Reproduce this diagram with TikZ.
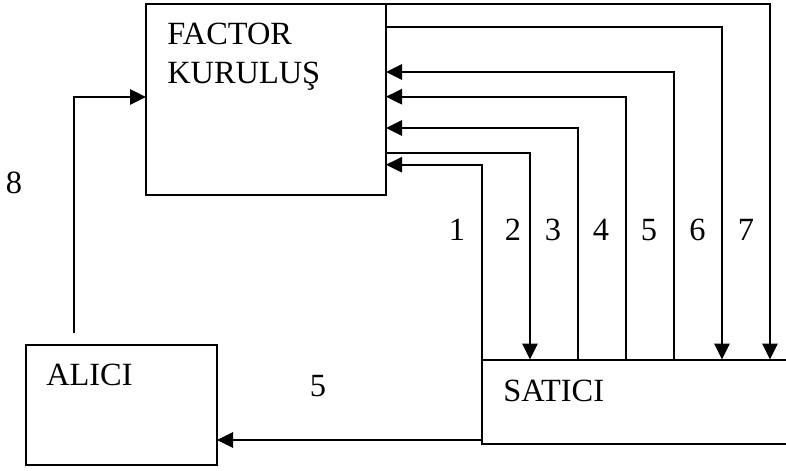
\documentclass[tikz,border=0pt]{standalone}
\usepackage{fontspec}
\setmainfont{Liberation Serif}
\usetikzlibrary{arrows.meta}
\tikzset{
  box/.style={draw, line width=1.5pt, inner sep=0pt, outer sep=0pt},
  conn/.style={draw, line width=1.4pt},
  arr/.style={conn, -{Triangle[length=12pt,width=11.5pt]}},
  lbl/.style={anchor=base, inner sep=0pt, font=\fontsize{24.3}{28}\selectfont},
  lblw/.style={anchor=base west, inner sep=0pt, font=\fontsize{24.3}{28}\selectfont}
}
\begin{document}
\begin{tikzpicture}[x=0.75pt, y=-0.75pt]
\clip (0,0) rectangle (786,471);
\fill[white] (0,0) rectangle (786,471);
% boxes
\node[box, minimum width=180pt, minimum height=143.25pt] (F) at (266,99.5) {};
\node[box, minimum width=143.25pt, minimum height=90pt] (A) at (121.5,405) {};
\node[box, minimum width=253.5pt, minimum height=63pt] (S) at (651,401.5) {};
% texts
\node[lblw] (t1) at (167,45) {FACTOR};
\node[lblw] (t2) at (167,83) {KURULUŞ};
\node[lblw] (t3) at (46,385) {ALICI};
\node[lblw] (t4) at (503,401) {SATICI};
% coordinates on FACTOR right side
\path (F.north east) ++(0,23.3) coordinate (f6);
\path (F.north east) ++(0,68) coordinate (f5);
\path (F.north east) ++(0,92.7) coordinate (f4);
\path (F.north east) ++(0,124) coordinate (f3);
\path (F.north east) ++(0,148.7) coordinate (f2);
\path (F.north east) ++(0,160.7) coordinate (f1);
\path (F.north west) ++(0,93) coordinate (f8);
% coordinates on SATICI top
\path (S.north west) ++(48,0) coordinate (s2);
\path (S.north west) ++(96,0) coordinate (s3);
\path (S.north west) ++(144,0) coordinate (s4);
\path (S.north west) ++(192,0) coordinate (s5);
\path (S.north west) ++(240,0) coordinate (s6);
\path (S.north west) ++(288,0) coordinate (s7);
\path (S.south west) ++(0,-3.5) coordinate (sb);
\path (A.north west) ++(48,-12) coordinate (a8);
% connectors
\draw[arr] (F.north east) -| (s7);
\draw[arr] (f6) -| (s6);
\draw[arr] (s5) |- (f5);
\draw[arr] (s4) |- (f4);
\draw[arr] (s3) |- (f3);
\draw[arr] (f2) -| (s2);
\draw[arr] (S.north west) |- (f1);
\draw[arr] (sb) -- (sb -| A.east);
\draw[arr] (a8) |- (f8);
% numbers
\node[lbl] (n1) at (457,240) {1};
\node[lbl] (n2) at (513,240) {2};
\node[lbl] (n3) at (553,240) {3};
\node[lbl] (n4) at (601,240) {4};
\node[lbl] (n5) at (649,240) {5};
\node[lbl] (n6) at (697.5,240) {6};
\node[lbl] (n7) at (746,240) {7};
\node[lbl] (n8) at (14,193) {8};
\node[lbl] (n9) at (318,396.5) {5};
\end{tikzpicture}
\end{document}
